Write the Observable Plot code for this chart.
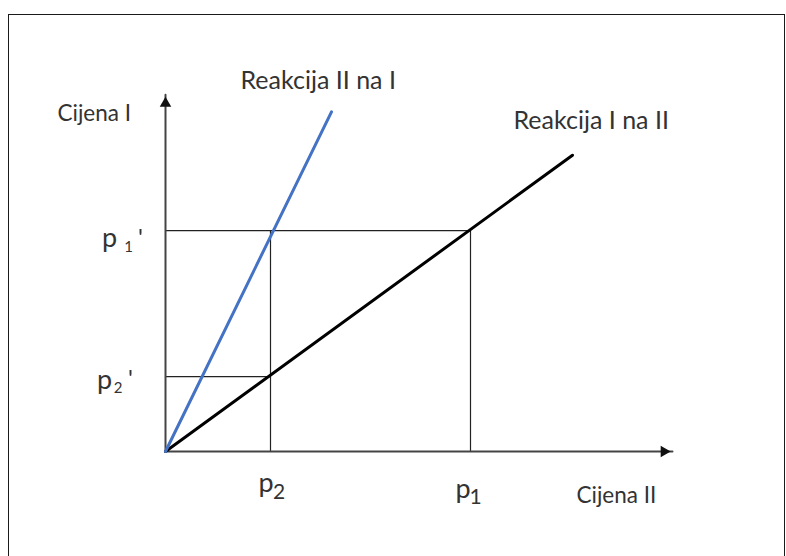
<!DOCTYPE html>
<html><head><meta charset="utf-8">
<script src="https://cdn.jsdelivr.net/npm/d3@7"></script>
<script src="https://cdn.jsdelivr.net/npm/@observablehq/plot@0.6"></script>
<style>
html,body{margin:0;padding:0;background:#fff;overflow:hidden;width:786px;height:556px;}
#frame{position:absolute;left:8px;top:14px;width:777px;height:600px;border:1.5px solid #1a1a1a;box-sizing:border-box;}
#chart{position:absolute;left:0;top:0;}
</style></head><body>
<div id="frame"></div><div id="chart"></div>
<script>
// Axis extents (arrow tips), in abstract price units
const axisTipX = 5.07;   // Cijena II
const axisTipY = 3.57;   // Cijena I
// Reaction curves (start at origin)
const reactionIIonI_x = [0, 1.66];
const reactionIIonI_y = [0, 3.40];
const reactionIonII_x = [0, 4.07];
const reactionIonII_y = [0, 2.965];
// Price levels
const pricesIILabels = ["2", "1"];      // p2, p1 on horizontal axis
const pricesIIValues = [1.05, 3.05];
const pricesILabels = ["1", "2"];       // p1', p2' on vertical axis
const pricesIValues = [2.21, 0.75];
// guide lines: verticals from axis up to p1', horizontals from axis to p
const vGuideX = [1.05, 3.05];
const vGuideTop = [2.21, 2.21];
const hGuideY = [2.21, 0.75];
const hGuideRight = [3.05, 1.05];

const curveII = reactionIIonI_x.map((x, i) => ({x, y: reactionIIonI_y[i]}));
const curveI = reactionIonII_x.map((x, i) => ({x, y: reactionIonII_y[i]}));
const ticksX = pricesIIValues.map((v, i) => ({v, sub: pricesIILabels[i]}));
const ticksY = pricesIValues.map((v, i) => ({v, sub: pricesILabels[i]}));
const vGuides = vGuideX.map((x, i) => ({x, y2: vGuideTop[i]}));
const hGuides = hGuideY.map((y, i) => ({y, x2: hGuideRight[i]}));

const font = "Lato, 'Open Sans', sans-serif";
const txt = "#333";

// label offsets (pixels) per tick
const yTickLayout = [
  {p: [-56, 16.7], s: [-37, 21.7], q: [-25, 15.7]},
  {p: [-61, 12], s: [-47.5, 16.3], q: [-35, 10.7]}
];
const xTickLayout = [
  {p: [-4.5, 40], s: [8.7, 47.3], size: 21},
  {p: [-7.5, 46], s: [5, 52.3], size: 21}
];

const marks = [
  // guides
  Plot.ruleX(vGuides, {x: "x", y1: 0, y2: "y2", stroke: "#222", strokeWidth: 1.2}),
  Plot.ruleY(hGuides, {y: "y", x1: 0, x2: "x2", stroke: "#222", strokeWidth: 1.2}),
  // axes
  Plot.line([{x: 0, y: 0}, {x: 0, y: axisTipY}], {x: "x", y: "y", stroke: "#444", strokeWidth: 2}),
  Plot.line([{x: 0, y: 0}, {x: axisTipX, y: 0}], {x: "x", y: "y", stroke: "#444", strokeWidth: 2}),
  Plot.dot([{x: 0, y: axisTipY}], {x: "x", y: "y", symbol: "triangle2", r: 5.5, fill: "#111", stroke: "none", dy: 8.5}),
  Plot.dot([{x: axisTipX, y: 0}], {x: "x", y: "y", symbol: "triangle2", r: 5.5, fill: "#111", stroke: "none", dx: -8.5, rotate: 90}),
  // reaction curves
  Plot.line(curveI, {x: "x", y: "y", stroke: "#000", strokeWidth: 3}),
  Plot.line(curveII, {x: "x", y: "y", stroke: "#4472C4", strokeWidth: 3}),
  // curve labels
  Plot.text([curveII[1]], {x: "x", y: "y", text: () => "Reakcija II na I", textAnchor: "start", lineAnchor: "bottom", dx: -91, dy: -22.7, fontSize: 25, fontFamily: font, fill: txt}),
  Plot.text([curveI[1]], {x: "x", y: "y", text: () => "Reakcija I na II", textAnchor: "start", lineAnchor: "bottom", dx: -59, dy: -26.5, fontSize: 25, fontFamily: font, fill: txt}),
  // axis titles
  Plot.text([{x: 0, y: axisTipY}], {x: "x", y: "y", text: () => "Cijena I", textAnchor: "start", lineAnchor: "bottom", dx: -108, dy: 26.4, fontSize: 22.5, fontFamily: font, fill: txt}),
  Plot.text([{x: axisTipX, y: 0}], {x: "x", y: "y", text: () => "Cijena II", textAnchor: "start", lineAnchor: "bottom", dx: -96, dy: 51, fontSize: 22.5, fontFamily: font, fill: txt})
];

ticksY.forEach((t, i) => {
  const L = yTickLayout[i];
  marks.push(Plot.text([t], {x: () => 0, y: "v", text: () => "p", textAnchor: "middle", lineAnchor: "bottom", dx: L.p[0], dy: L.p[1], fontSize: 27, fontFamily: font, fill: txt}));
  marks.push(Plot.text([t], {x: () => 0, y: "v", text: "sub", textAnchor: "middle", lineAnchor: "bottom", dx: L.s[0], dy: L.s[1], fontSize: 15, fontFamily: font, fill: txt}));
  marks.push(Plot.text([t], {x: () => 0, y: "v", text: () => "'", textAnchor: "middle", lineAnchor: "bottom", dx: L.q[0], dy: L.q[1], fontSize: 24, fontFamily: font, fill: txt}));
});
ticksX.forEach((t, i) => {
  const L = xTickLayout[i];
  marks.push(Plot.text([t], {x: "v", y: () => 0, text: () => "p", textAnchor: "middle", lineAnchor: "bottom", dx: L.p[0], dy: L.p[1], fontSize: 27, fontFamily: font, fill: txt}));
  marks.push(Plot.text([t], {x: "v", y: () => 0, text: "sub", textAnchor: "middle", lineAnchor: "bottom", dx: L.s[0], dy: L.s[1], fontSize: L.size, fontFamily: font, fill: txt}));
});

const chart = Plot.plot({
  width: 786,
  height: 556,
  x: {domain: [0, axisTipX], range: [165, 672], axis: null},
  y: {domain: [0, axisTipY], range: [451, 94.3], axis: null},
  style: {background: "transparent", overflow: "visible"},
  marks
});
document.getElementById("chart").appendChild(chart);
</script>
</body></html>
